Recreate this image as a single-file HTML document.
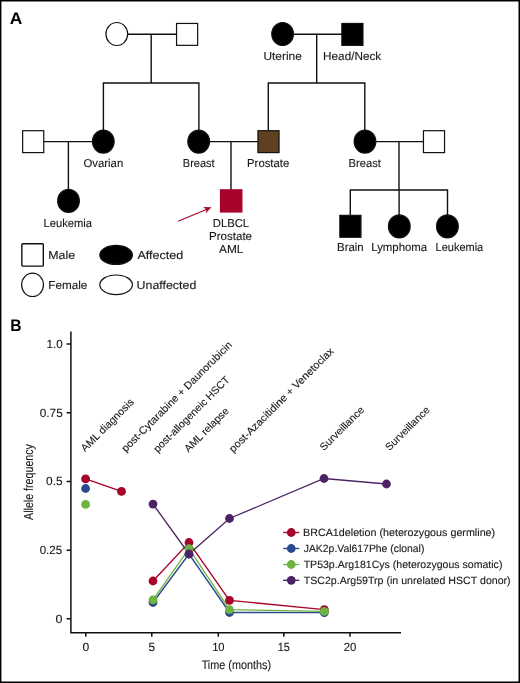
<!DOCTYPE html>
<html>
<head>
<meta charset="utf-8">
<style>
html,body{margin:0;padding:0;background:#fff;}
body{width:520px;height:683px;overflow:hidden;font-family:"Liberation Sans",sans-serif;}
svg{display:block;}
text{text-rendering:geometricPrecision;}
text{font-family:"Liberation Sans",sans-serif;fill:#1a1a1a;stroke:#1a1a1a;stroke-width:0.12px;}
.ln{stroke:#111;stroke-width:1.4;fill:none;}
.sh{stroke:#111;stroke-width:1.2;}
</style>
</head>
<body>
<svg style="will-change:transform" width="520" height="683" viewBox="0 0 520 683">
<rect x="0" y="0" width="520" height="683" fill="#fff"/>
<!-- outer frame -->
<path d="M0 0H520V683H0Z M1.4 1.4V681.4H518.5V1.4Z" fill="#000" fill-rule="evenodd"/>

<!-- Panel A: pedigree -->
<text x="9.8" y="23.9" font-size="16.8" font-weight="bold" textLength="12.6" lengthAdjust="spacingAndGlyphs" style="fill:#000;stroke:none">A</text>
<g class="ln">
<path d="M128 34.3H176.5 M151.2 34.3V83 M103.4 130V83H198.9V130"/>
<path d="M44 141.6H92 M68.4 141.6V190"/>
<path d="M210 141.6H258 M231 141.6V190"/>
<path d="M294 34.3H342 M316.7 34.3V83 M268.3 130V83H364.8V130"/>
<path d="M376 141.6H424 M399 141.6V190 M350.3 215V190H447.5V215 M399.1 190V215"/>
</g>
<g class="sh">
<ellipse cx="116.8" cy="34" rx="10.85" ry="11.5" fill="#fff"/>
<rect x="176.55" y="23.45" width="21.1" height="21.9" fill="#fff"/>
<ellipse cx="282.6" cy="34" rx="10.85" ry="11.5" fill="#000"/>
<rect x="341.85" y="23.45" width="21.1" height="21.9" fill="#000"/>
<rect x="22.65" y="130.70" width="21.1" height="21.9" fill="#fff"/>
<ellipse cx="103.3" cy="141.6" rx="10.85" ry="11.5" fill="#000"/>
<ellipse cx="198.7" cy="141.6" rx="10.85" ry="11.5" fill="#000"/>
<rect x="257.95" y="130.70" width="21.1" height="21.9" fill="#5f401f"/>
<ellipse cx="365" cy="141.6" rx="10.85" ry="11.5" fill="#000"/>
<rect x="423.45" y="130.70" width="21.1" height="21.9" fill="#fff"/>
<ellipse cx="68.5" cy="200.9" rx="10.85" ry="11.5" fill="#000"/>
<rect x="220.50" y="189.80" width="21.4" height="22.2" fill="#a6042b" stroke="#a6042b"/>
<rect x="339.85" y="215.35" width="21.1" height="21.9" fill="#000"/>
<ellipse cx="399.3" cy="226.4" rx="10.85" ry="11.5" fill="#000"/>
<ellipse cx="447.4" cy="226.4" rx="10.85" ry="11.5" fill="#000"/>
</g>
<path d="M178.1 221.3L207 209.3" stroke="#a6042b" stroke-width="1.2" fill="none"/>
<path d="M211.5 207.2L203.1 207L206.6 209.5L205.5 213.6Z" fill="#a6042b"/>
<g>
<text x="263.48" y="59.90" font-size="11.5" textLength="38.35" lengthAdjust="spacingAndGlyphs">Uterine</text>
<text x="323.14" y="59.90" font-size="11.5" textLength="58.05" lengthAdjust="spacingAndGlyphs">Head/Neck</text>
<text x="83.46" y="166.90" font-size="11.5" textLength="39.78" lengthAdjust="spacingAndGlyphs">Ovarian</text>
<text x="182.85" y="166.80" font-size="11.5" textLength="31.73" lengthAdjust="spacingAndGlyphs">Breast</text>
<text x="247.07" y="166.80" font-size="11.5" textLength="42.18" lengthAdjust="spacingAndGlyphs">Prostate</text>
<text x="348.58" y="166.80" font-size="11.5" textLength="32.25" lengthAdjust="spacingAndGlyphs">Breast</text>
<text x="43.58" y="226.50" font-size="11.5" textLength="48.42" lengthAdjust="spacingAndGlyphs">Leukemia</text>
<text x="212.83" y="226.50" font-size="11.5" textLength="36.30" lengthAdjust="spacingAndGlyphs">DLBCL</text>
<text x="209.05" y="240.00" font-size="11.5" textLength="42.96" lengthAdjust="spacingAndGlyphs">Prostate</text>
<text x="218.98" y="253.25" font-size="11.5" textLength="24.42" lengthAdjust="spacingAndGlyphs">AML</text>
<text x="337.06" y="251.00" font-size="11.5" textLength="26.68" lengthAdjust="spacingAndGlyphs">Brain</text>
<text x="371.27" y="251.00" font-size="11.5" textLength="55.93" lengthAdjust="spacingAndGlyphs">Lymphoma</text>
<text x="435.60" y="251.00" font-size="11.5" textLength="47.60" lengthAdjust="spacingAndGlyphs">Leukemia</text>
<text x="48.24" y="258.50" font-size="11.5" textLength="26.81" lengthAdjust="spacingAndGlyphs">Male</text>
<text x="48.29" y="288.50" font-size="11.5" textLength="38.98" lengthAdjust="spacingAndGlyphs">Female</text>
<text x="137.48" y="258.50" font-size="11.5" textLength="45.83" lengthAdjust="spacingAndGlyphs">Affected</text>
<text x="136.55" y="288.50" font-size="11.5" textLength="59.75" lengthAdjust="spacingAndGlyphs">Unaffected</text>
</g>
<!-- pedigree key -->
<g class="sh">
<rect x="21.85" y="243.7" width="21.45" height="22.45" rx="0.9" fill="#fff" style="stroke-width:1.4"/>
<ellipse cx="32.55" cy="284.85" rx="10.95" ry="11.65" fill="#fff"/>
<ellipse cx="116.1" cy="254.9" rx="16.3" ry="9.5" fill="#000"/>
<ellipse cx="116.1" cy="284.8" rx="16.3" ry="9.8" fill="#fff"/>
</g>
<!-- Panel B: chart -->
<text x="10.2" y="331.3" font-size="16.6" font-weight="bold" textLength="11.3" lengthAdjust="spacingAndGlyphs" style="fill:#000;stroke:none">B</text>
<g class="ln" style="stroke-width:1.5">
<path d="M70.9 331.4V632.75H401"/>
<path d="M66.6 344.1H70.7 M66.6 412.7H70.7 M66.6 481.5H70.7 M66.6 550.2H70.7 M66.6 618.8H70.7"/>
<path d="M85.8 632.7V636.8 M151.8 632.7V636.8 M218.3 632.7V636.8 M283.8 632.7V636.8 M350 632.7V636.8"/>
</g>
<g style="stroke-width:0.04px">
<text x="46.41" y="348.10" font-size="11.8" textLength="16.25" lengthAdjust="spacingAndGlyphs">1.0</text>
<text x="39.74" y="416.50" font-size="11.8" textLength="22.96" lengthAdjust="spacingAndGlyphs">0.75</text>
<text x="46.13" y="485.20" font-size="11.8" textLength="16.57" lengthAdjust="spacingAndGlyphs">0.5</text>
<text x="39.65" y="553.90" font-size="11.8" textLength="22.54" lengthAdjust="spacingAndGlyphs">0.25</text>
<text x="55.51" y="622.50" font-size="11.8" textLength="6.98" lengthAdjust="spacingAndGlyphs">0</text>
<text x="82.63" y="650.70" font-size="11.8" textLength="6.75" lengthAdjust="spacingAndGlyphs">0</text>
<text x="148.53" y="650.70" font-size="11.8" textLength="6.57" lengthAdjust="spacingAndGlyphs">5</text>
<text x="212.14" y="650.70" font-size="11.8" textLength="12.49" lengthAdjust="spacingAndGlyphs">10</text>
<text x="277.77" y="650.70" font-size="11.8" textLength="12.08" lengthAdjust="spacingAndGlyphs">15</text>
<text x="343.63" y="650.70" font-size="11.8" textLength="12.61" lengthAdjust="spacingAndGlyphs">20</text>
<text x="201.66" y="669.20" font-size="12.3" textLength="69.41" lengthAdjust="spacingAndGlyphs">Time (months)</text>
<text transform="translate(32.50 519.90) rotate(-90)" x="-0.02" y="0" font-size="12.9" textLength="75.84" lengthAdjust="spacingAndGlyphs">Allele frequency</text>
</g>
<g>
<text transform="translate(85.10 452.20) rotate(-45)" x="-0.02" y="0" font-size="10.5" textLength="69.99" lengthAdjust="spacingAndGlyphs">AML diagnosis</text>
<text transform="translate(126.30 451.90) rotate(-45)" x="-0.69" y="0" font-size="10.5" textLength="151.03" lengthAdjust="spacingAndGlyphs">post-Cytarabine + Daunorubicin</text>
<text transform="translate(158.20 452.40) rotate(-45)" x="-0.68" y="0" font-size="10.5" textLength="102.55" lengthAdjust="spacingAndGlyphs">post-allogeneic HSCT</text>
<text transform="translate(188.50 452.70) rotate(-45)" x="-0.02" y="0" font-size="10.5" textLength="58.10" lengthAdjust="spacingAndGlyphs">AML relapse</text>
<text transform="translate(233.80 452.40) rotate(-45)" x="-0.70" y="0" font-size="10.5" textLength="142.92" lengthAdjust="spacingAndGlyphs">post-Azacitidine + Venetoclax</text>
<text transform="translate(324.40 450.90) rotate(-45)" x="-0.48" y="0" font-size="10.5" textLength="57.59" lengthAdjust="spacingAndGlyphs">Surveillance</text>
<text transform="translate(389.90 450.90) rotate(-45)" x="-0.48" y="0" font-size="10.5" textLength="57.59" lengthAdjust="spacingAndGlyphs">Surveillance</text>
</g>
<g fill="none" stroke-width="1.35">
<path stroke="#a6042b" d="M85.6 478.9L121.5 491.4M153 581L189 542.5L229.5 600.3L324.3 609.6"/>
<path stroke="#2b4a8b" d="M85.6 488.5M153 602.5L189 554L229.5 612.5L324.3 612.6"/>
<path stroke="#6db33f" d="M85.6 504.4M153 599.8L189 548.7L229.5 609.7L324.3 611.4"/>
<path stroke="#4c2364" d="M153 504.1L189 554L229.5 518.5L324 478.5L386.5 484"/>
</g>
<g fill="#a6042b"><circle cx="85.6" cy="478.9" r="4.4"/><circle cx="121.5" cy="491.4" r="4.4"/><circle cx="153" cy="581" r="4.4"/><circle cx="189" cy="542.5" r="4.4"/><circle cx="229.5" cy="600.3" r="4.4"/><circle cx="324.3" cy="609.6" r="4.4"/></g>
<g fill="#2b4a8b"><circle cx="85.6" cy="488.5" r="4.4"/><circle cx="153" cy="602.5" r="4.4"/><circle cx="189" cy="554" r="4.4"/><circle cx="229.5" cy="612.5" r="4.4"/><circle cx="324.3" cy="612.6" r="4.4"/></g>
<g fill="#6db33f"><circle cx="85.6" cy="504.4" r="4.4"/><circle cx="153" cy="599.8" r="4.4"/><circle cx="189" cy="548.7" r="4.4"/><circle cx="229.5" cy="609.7" r="4.4"/><circle cx="324.3" cy="611.4" r="4.4"/></g>
<g fill="#4c2364"><circle cx="153" cy="504.1" r="4.4"/><circle cx="189" cy="554" r="4.4"/><circle cx="229.5" cy="518.5" r="4.4"/><circle cx="324" cy="478.5" r="4.4"/><circle cx="386.5" cy="484" r="4.4"/></g>
<!-- chart legend -->
<path stroke="#a6042b" stroke-width="1.35" d="M283.2 532.5H299.3"/><circle cx="291.25" cy="532.5" r="4.4" fill="#a6042b"/>
<path stroke="#2b4a8b" stroke-width="1.35" d="M283.2 548.5H299.3"/><circle cx="291.25" cy="548.5" r="4.4" fill="#2b4a8b"/>
<path stroke="#6db33f" stroke-width="1.35" d="M283.2 564.5H299.3"/><circle cx="291.25" cy="564.5" r="4.4" fill="#6db33f"/>
<path stroke="#4c2364" stroke-width="1.35" d="M283.2 580.3H299.3"/><circle cx="291.25" cy="580.3" r="4.4" fill="#4c2364"/>
<g>
<text x="303.02" y="535.70" font-size="10.5" textLength="192.15" lengthAdjust="spacingAndGlyphs">BRCA1deletion (heterozygous germline)</text>
<text x="303.74" y="551.70" font-size="10.5" textLength="120.65" lengthAdjust="spacingAndGlyphs">JAK2p.Val617Phe (clonal)</text>
<text x="303.66" y="567.70" font-size="10.5" textLength="198.74" lengthAdjust="spacingAndGlyphs">TP53p.Arg181Cys (heterozygous somatic)</text>
<text x="303.66" y="583.50" font-size="10.5" textLength="206.99" lengthAdjust="spacingAndGlyphs">TSC2p.Arg59Trp (in unrelated HSCT donor)</text>
</g>
</svg>
</body>
</html>
